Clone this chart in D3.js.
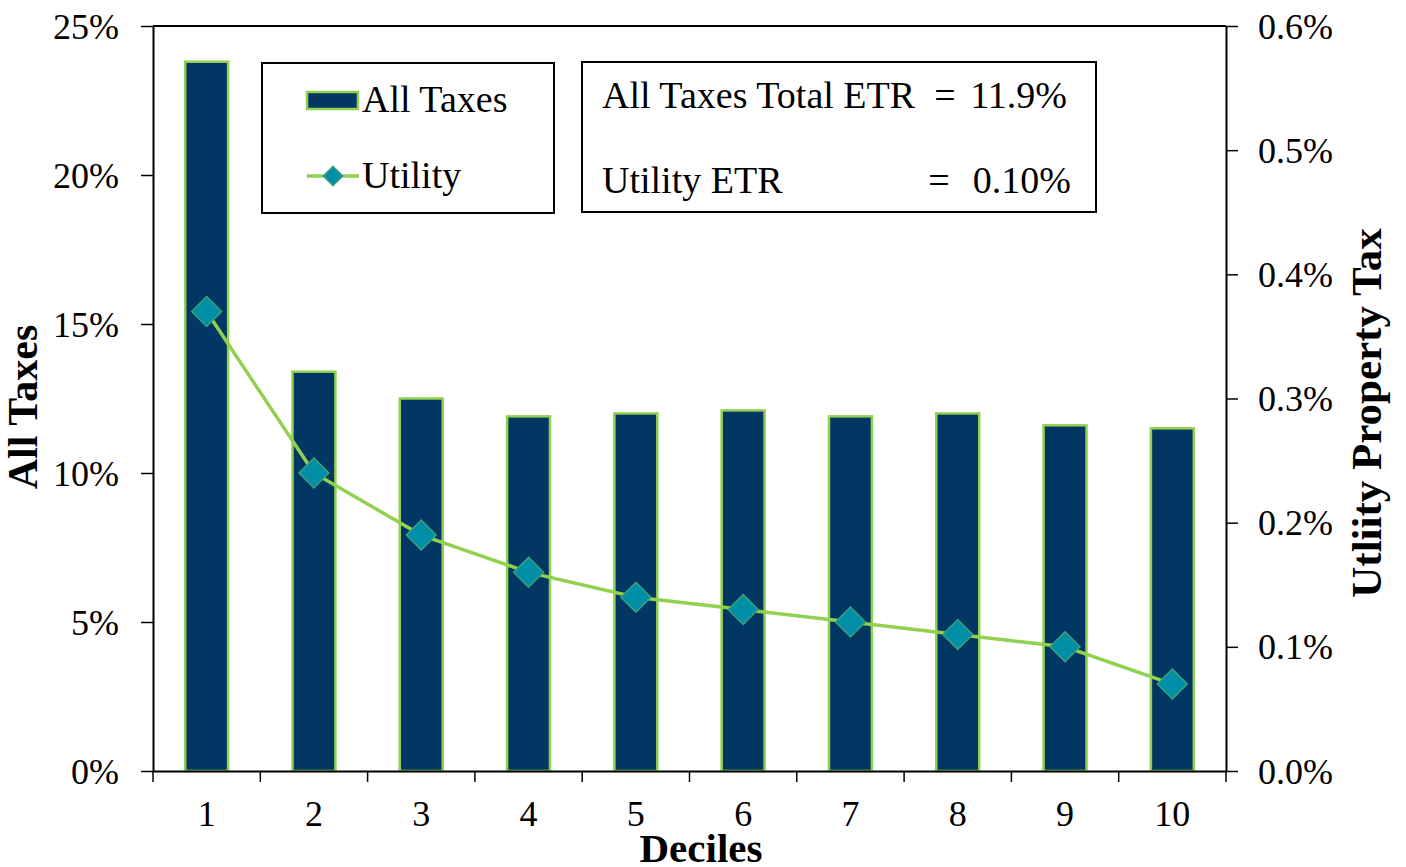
<!DOCTYPE html>
<html>
<head>
<meta charset="utf-8">
<script src="https://cdn.jsdelivr.net/npm/d3@7"></script>
<style>
  html, body { margin: 0; padding: 0; background: #fff; }
  svg { display: block; }
  text { font-family: "Liberation Serif", "Times New Roman", serif; fill: #000; }
</style>
</head>
<body>
<svg id="chart" width="1406" height="867"></svg>
<script>
// Effective tax rates by income decile
const deciles = ["1", "2", "3", "4", "5", "6", "7", "8", "9", "10"];
const allTaxes = [23.8, 13.4, 12.5, 11.9, 12.0, 12.1, 11.9, 12.0, 11.6, 11.5];
const utility = [0.37, 0.24, 0.19, 0.16, 0.14, 0.13, 0.12, 0.11, 0.10, 0.07];
const leftTicks = [0, 5, 10, 15, 20, 25];
const rightTicks = [0, 0.1, 0.2, 0.3, 0.4, 0.5, 0.6];
const summaryRows = [
  { label: "All Taxes Total ETR", value: "11.9%" },
  { label: "Utility ETR", value: "0.10%" }
];

const BAR_FILL = "#023763";
const GREEN = "#92D050";
const TEAL = "#008FA6";
const DIAMOND_EDGE = "#3BA07A";
const SERIF = '"Liberation Serif", "Times New Roman", serif';

const svg = d3.select("#chart");
const plot = { left: 153, right: 1226, top: 26, bottom: 771 };

const x = d3.scaleBand()
  .domain(deciles)
  .range([plot.left, plot.right])
  .paddingInner(0.6)
  .paddingOuter(0.3);

const yLeft = d3.scaleLinear().domain([0, 25]).range([plot.bottom, plot.top]);
const yRight = d3.scaleLinear().domain([0, 0.6]).range([plot.bottom, plot.top]);
const cx = i => x(deciles[i]) + x.bandwidth() / 2;

// Bars
svg.append("g").selectAll("rect")
  .data(allTaxes)
  .join("rect")
  .attr("x", (d, i) => x(deciles[i]))
  .attr("y", d => yLeft(d))
  .attr("width", x.bandwidth())
  .attr("height", d => yLeft(0) - yLeft(d))
  .attr("fill", BAR_FILL)
  .attr("stroke", GREEN)
  .attr("stroke-width", 2.5);

// Utility line with diamond markers
const line = d3.line()
  .x((d, i) => cx(i))
  .y(d => yRight(d));

svg.append("path")
  .datum(utility)
  .attr("d", line)
  .attr("fill", "none")
  .attr("stroke", GREEN)
  .attr("stroke-width", 3.5);

const diamond = d3.symbol().type(d3.symbolDiamond2).size(570);
svg.append("g").selectAll("path")
  .data(utility)
  .join("path")
  .attr("d", diamond)
  .attr("transform", (d, i) => `translate(${cx(i)},${yRight(d)})`)
  .attr("fill", TEAL)
  .attr("stroke", DIAMOND_EDGE)
  .attr("stroke-width", 1.5);

// Frame: top line plus axes
svg.append("line")
  .attr("x1", plot.left).attr("x2", plot.right)
  .attr("y1", plot.top).attr("y2", plot.top)
  .attr("stroke", "#000").attr("stroke-width", 2);

function styleAxis(g) {
  g.attr("font-family", SERIF);
  g.selectAll(".domain").attr("stroke", "#000").attr("stroke-width", 2);
  g.selectAll(".tick line").attr("stroke", "#000").attr("stroke-width", 1.5);
  g.selectAll(".tick text")
    .style("font-family", SERIF)
    .style("font-size", "36px")
    .attr("fill", "#000");
}

// Left axis
const gLeft = svg.append("g")
  .attr("transform", `translate(${plot.left},0)`)
  .call(d3.axisLeft(yLeft).tickValues(leftTicks).tickSize(12).tickSizeOuter(0)
    .tickPadding(22).tickFormat(d => d + "%"));
styleAxis(gLeft);
gLeft.selectAll(".tick text").attr("dy", "12px");

// Right axis
const gRight = svg.append("g")
  .attr("transform", `translate(${plot.right},0)`)
  .call(d3.axisRight(yRight).tickValues(rightTicks).tickSize(12).tickSizeOuter(0)
    .tickPadding(20).tickFormat(d => d3.format(".1f")(d) + "%"));
styleAxis(gRight);
gRight.selectAll(".tick text").attr("dy", "12px");

// Bottom axis: ticks at category boundaries, labels at centers
const gBottom = svg.append("g")
  .attr("transform", `translate(0,${plot.bottom})`)
  .call(d3.axisBottom(x).tickSize(0).tickSizeOuter(0).tickPadding(0));
styleAxis(gBottom);
gBottom.selectAll(".tick text").attr("y", 55).attr("dy", 0);

const boundaries = d3.range(deciles.length + 1)
  .map(i => plot.left + i * (plot.right - plot.left) / deciles.length);
gBottom.append("g").selectAll("line")
  .data(boundaries)
  .join("line")
  .attr("x1", d => d).attr("x2", d => d)
  .attr("y1", 0).attr("y2", 11)
  .attr("stroke", "#000").attr("stroke-width", 1.5);

// Axis titles
svg.append("text")
  .attr("transform", "translate(37,407) rotate(-90)")
  .attr("text-anchor", "middle")
  .style("font-weight", "bold")
  .style("font-size", "42px")
  .text("All Taxes");

svg.append("text")
  .attr("transform", "translate(1381,413) rotate(-90)")
  .attr("text-anchor", "middle")
  .style("font-weight", "bold")
  .style("font-size", "43px")
  .text("Utliity Property Tax");

svg.append("text")
  .attr("x", 701).attr("y", 862)
  .attr("text-anchor", "middle")
  .style("font-weight", "bold")
  .style("font-size", "41px")
  .text("Deciles");

// Legend box
const legend = svg.append("g");
legend.append("rect")
  .attr("x", 262).attr("y", 63).attr("width", 292).attr("height", 150)
  .attr("fill", "#fff").attr("stroke", "#000").attr("stroke-width", 2);
legend.append("rect")
  .attr("x", 307).attr("y", 92).attr("width", 51).attr("height", 17)
  .attr("fill", BAR_FILL).attr("stroke", GREEN).attr("stroke-width", 2.5);
legend.append("text")
  .attr("x", 362).attr("y", 112)
  .style("font-size", "38px")
  .text("All Taxes");
legend.append("line")
  .attr("x1", 307).attr("x2", 359).attr("y1", 176).attr("y2", 176)
  .attr("stroke", GREEN).attr("stroke-width", 3.5);
legend.append("path")
  .attr("d", d3.symbol().type(d3.symbolDiamond2).size(240))
  .attr("transform", "translate(333,176)")
  .attr("fill", TEAL).attr("stroke", DIAMOND_EDGE).attr("stroke-width", 1.5);
legend.append("text")
  .attr("x", 362).attr("y", 188)
  .style("font-size", "38px")
  .text("Utility");

// Summary box
const summary = svg.append("g");
summary.append("rect")
  .attr("x", 582).attr("y", 62).attr("width", 514).attr("height", 150)
  .attr("fill", "#fff").attr("stroke", "#000").attr("stroke-width", 2);
const rowY = [108, 193];
const eqX = [945, 939];
const valEnd = [1067, 1071];
summaryRows.forEach((r, i) => {
  summary.append("text").attr("x", 602).attr("y", rowY[i])
    .style("font-size", "38px").text(r.label);
  summary.append("text").attr("x", eqX[i]).attr("y", rowY[i])
    .attr("text-anchor", "middle").style("font-size", "38px").text("=");
  summary.append("text").attr("x", valEnd[i]).attr("y", rowY[i])
    .attr("text-anchor", "end").style("font-size", "38px").text(r.value);
});
</script>
</body>
</html>
